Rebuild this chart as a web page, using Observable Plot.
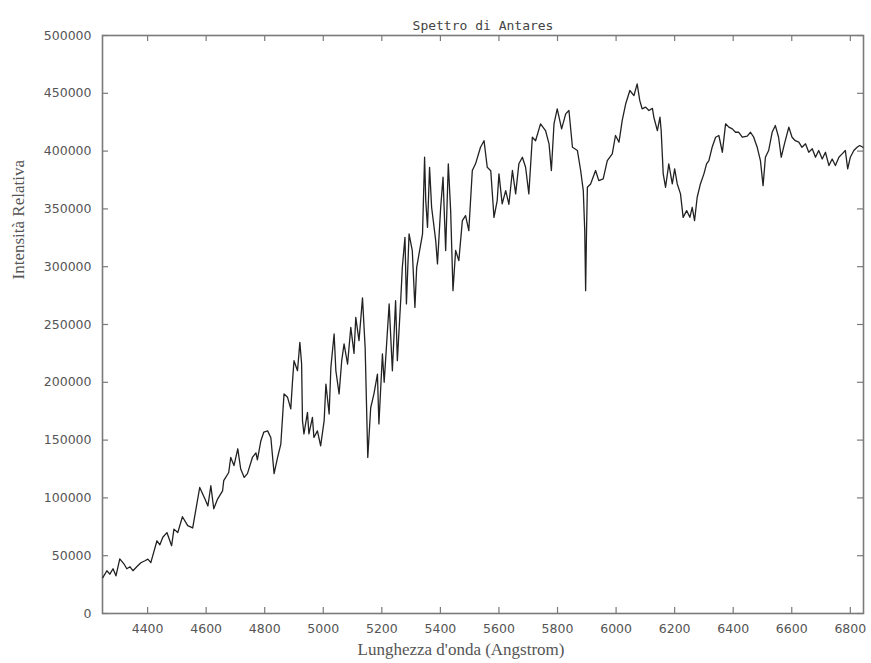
<!DOCTYPE html>
<html><head><meta charset="utf-8">
<script src="https://cdn.jsdelivr.net/npm/d3@7"></script>
<script src="https://cdn.jsdelivr.net/npm/@observablehq/plot@0.6"></script>
<style>body{margin:0;background:#fff} svg{display:block}</style>
</head><body><div id="chart"></div>
<script>
const title = "Spettro di Antares";
const xLabel = "Lunghezza d'onda (Angstrom)";
const yLabel = "Intensità Relativa";

const wavelengths = [
4247,4261,4271,4282,4292,4305,4319,4329,4340,4350,4363,4377,4391,4401,4411,4422,4432,4442,4452,4466,
4482,4490,4503,4519,4537,4554,4565,4578,4596,4606,4616,4626,4639,4656,4660,4677,4684,4695,4708,4718,
4730,4741,4758,4770,4775,4787,4797,4810,4821,4832,4844,4855,4866,4878,4889,4895,4900,4912,4920,4926,
4929,4934,4946,4951,4963,4968,4980,4991,5003,5009,5020,5026,5037,5043,5054,5063,5071,5083,5094,5105,
5111,5122,5134,5143,5152,5162,5173,5185,5190,5202,5208,5225,5236,5247,5253,5265,5270,5279,5284,5293,
5304,5313,5319,5327,5339,5346,5350,5356,5363,5370,5384,5390,5401,5409,5418,5427,5435,5443,5452,5463,
5475,5486,5497,5509,5520,5537,5549,5560,5572,5583,5594,5600,5611,5623,5634,5646,5657,5668,5680,5691,
5702,5714,5725,5742,5759,5771,5779,5788,5799,5814,5828,5839,5851,5868,5879,5888,5893,5896,5899,5902,
5913,5930,5941,5956,5970,5987,5998,6010,6021,6033,6047,6061,6072,6081,6089,6101,6112,6124,6129,6141,
6150,6154,6161,6169,6180,6192,6200,6209,6220,6229,6241,6252,6260,6268,6277,6288,6300,6309,6317,6328,
6340,6351,6363,6374,6385,6397,6408,6419,6431,6448,6459,6470,6482,6493,6502,6510,6521,6533,6544,6555,
6564,6575,6590,6601,6612,6624,6635,6647,6658,6670,6681,6692,6704,6715,6727,6738,6749,6761,6772,6783,
6791,6800,6812,6823,6832,6843
];

const intensities = [
31000,37000,34000,38700,32600,47300,43000,38700,40400,37000,40400,43900,45600,47000,44000,54000,62900,59400,66000,70000,
58600,73000,70000,83700,76000,74000,90000,109000,99000,93000,110500,90600,99000,106000,115000,122000,135000,128000,142500,125000,
117700,121000,135000,139000,133000,149500,157000,158000,152000,121000,135000,146600,190000,187000,177000,201000,218700,210000,234500,216000,
166800,155300,174000,155300,169600,152300,158000,145000,166800,198500,172600,213000,241800,210000,190000,218700,233200,215800,247500,225000,
256200,236000,273000,230000,135000,178000,190000,207000,164000,224500,200000,267800,210000,270600,218700,273500,299500,325400,267800,328400,
314000,264800,299500,311000,328400,394700,357200,334000,386000,351400,322600,302400,351400,377400,314000,389000,348500,279300,314000,305300,
339900,344200,331200,383200,389000,403300,409000,386000,383000,342700,357200,380300,354300,365800,354000,383200,363000,389000,394700,386000,
363000,412000,409000,423600,417800,406300,383200,423600,436600,419200,432200,435100,403300,400500,383200,365800,331200,279300,330000,368700,
371600,383200,374500,376000,391800,397600,413500,407700,426500,441000,452400,448000,458200,443700,436600,438000,435100,437000,429300,417700,
429300,417700,380300,368700,389000,371600,384600,371600,363000,342700,348500,342700,351400,339900,360100,371600,380300,389000,391800,403300,
412000,413500,399000,423600,420700,419200,416300,416300,412000,413000,416300,412000,403300,391800,370100,394700,400500,416300,422100,412000,
394700,406300,420700,412000,409000,407700,403300,406300,399000,402000,394700,400500,393200,399000,387500,393200,387500,394700,397600,400500,
384600,394700,400500,403300,404800,403300
];

const xTicks = [4400, 4600, 4800, 5000, 5200, 5400, 5600, 5800, 6000, 6200, 6400, 6600, 6800];
const yTicks = [0, 50000, 100000, 150000, 200000, 250000, 300000, 350000, 400000, 450000, 500000];
const xDomain = [4246, 6845];
const yDomain = [0, 500000];

const data = wavelengths.map((w, i) => ({wl: w, val: intensities[i]}));

const W = 871, H = 663, mL = 102, mR = 8, mT = 35, mB = 50;
const frameH = H - mT - mB, frameW = W - mL - mR;
const tick = 6;
const axisColor = "#7a7a7a";

const chart = Plot.plot({
  width: W, height: H,
  marginLeft: mL, marginRight: mR, marginTop: mT, marginBottom: mB,
  style: {fontFamily: "DejaVu Sans", fontSize: "12.5px", color: "#555", background: "#fff"},
  x: {domain: xDomain},
  y: {domain: yDomain},
  marks: [
    Plot.axisX(xTicks, {tickSize: 0, tickPadding: 11, label: null, tickFormat: d => String(d), fill: "#555"}),
    Plot.axisY(yTicks, {tickSize: 0, tickPadding: 11, label: null, tickFormat: d => String(d), fill: "#555"}),
    Plot.tickX(xTicks, {x: d => d, insetTop: frameH - tick, stroke: axisColor, strokeWidth: 1.2}),
    Plot.tickX(xTicks, {x: d => d, insetBottom: frameH - tick, stroke: axisColor, strokeWidth: 1.2}),
    Plot.tickY(yTicks, {y: d => d, insetRight: frameW - tick, stroke: axisColor, strokeWidth: 1.2}),
    Plot.tickY(yTicks, {y: d => d, insetLeft: frameW - tick, stroke: axisColor, strokeWidth: 1.2}),
    Plot.frame({stroke: axisColor, strokeWidth: 1.6}),
    Plot.line(data, {x: "wl", y: "val", stroke: "#222", strokeWidth: 1.3}),
    Plot.text([title], {text: d => d, frameAnchor: "top", dy: -15, fontFamily: "DejaVu Sans Mono", fontSize: 13, fill: "#444"}),
    Plot.text([xLabel], {text: d => d, frameAnchor: "bottom", dx: -22, dy: 41, fontFamily: "Liberation Serif", fontSize: 17, fill: "#555"}),
    Plot.text([yLabel], {text: d => d, frameAnchor: "left", dx: -84, dy: -45, rotate: -90, fontFamily: "Liberation Serif", fontSize: 17, fill: "#555"})
  ]
});
document.getElementById("chart").appendChild(chart);
</script>
</body></html>
